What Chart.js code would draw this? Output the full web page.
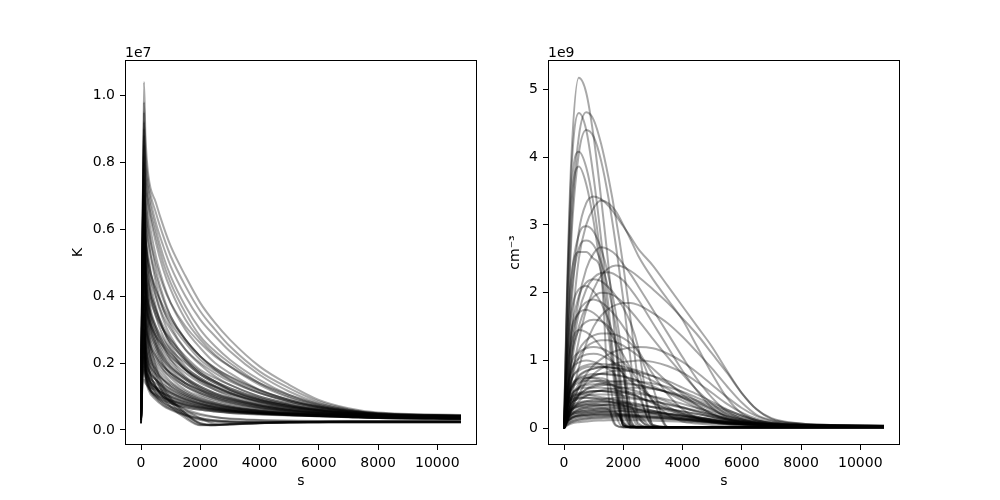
<!DOCTYPE html>
<html>
<head>
<meta charset="utf-8">
<script src="https://cdn.jsdelivr.net/npm/chart.js@4.4.1/dist/chart.umd.min.js"></script>
<style>
  html, body { margin: 0; padding: 0; background: #fff; }
  #wrap { position: relative; width: 1000px; height: 500px; }
  .panel { position: absolute; top: 0; width: 500px; height: 500px; }
</style>
</head>
<body>
<div id="wrap">
  <div class="panel" style="left:0"><canvas id="tempChart"></canvas></div>
  <div class="panel" style="left:500px"><canvas id="densChart"></canvas></div>
</div>
<script>
// tick labels
const xTicks = [0, 2000, 4000, 6000, 8000, 10000];
const tempTicks = [0, 0.2, 0.4, 0.6, 0.8, 1.0];
const densTicks = [0, 1, 2, 3, 4, 5];

// left panel: temperature (units of 1e7 K) against time (s)
const timeTemp = [0, 50, 100, 150, 250, 500, 750, 1000, 1500, 2000, 2500, 3000, 4000, 5000, 6000, 7000, 8000, 10800];
const tempCurves = [
  [0.03, 0.5, 1.04, 0.88, 0.76, 0.68, 0.61, 0.55, 0.46, 0.38, 0.32, 0.27, 0.19, 0.135, 0.09, 0.065, 0.052, 0.045],
  [0.03, 0.45, 0.98, 0.84, 0.74, 0.65, 0.58, 0.52, 0.43, 0.355, 0.3, 0.25, 0.175, 0.125, 0.085, 0.062, 0.05, 0.044],
  [0.035, 0.55, 0.92, 0.8, 0.72, 0.62, 0.55, 0.49, 0.4, 0.33, 0.28, 0.235, 0.165, 0.115, 0.08, 0.06, 0.05, 0.043],
  [0.03, 0.6, 0.85, 0.78, 0.7, 0.6, 0.52, 0.46, 0.37, 0.3, 0.25, 0.21, 0.15, 0.105, 0.075, 0.058, 0.048, 0.042],
  [0.03, 0.55, 0.8, 0.74, 0.67, 0.56, 0.48, 0.42, 0.33, 0.27, 0.225, 0.19, 0.135, 0.097, 0.072, 0.056, 0.047, 0.042],
  [0.03, 0.5, 0.78, 0.72, 0.64, 0.52, 0.44, 0.38, 0.3, 0.245, 0.2, 0.17, 0.12, 0.09, 0.068, 0.054, 0.046, 0.041],
  [0.03, 0.5, 0.76, 0.7, 0.61, 0.48, 0.4, 0.34, 0.27, 0.22, 0.18, 0.15, 0.11, 0.085, 0.065, 0.053, 0.046, 0.041],
  [0.03, 0.45, 0.72, 0.66, 0.57, 0.44, 0.36, 0.31, 0.24, 0.195, 0.16, 0.135, 0.1, 0.078, 0.062, 0.051, 0.045, 0.04],
  [0.03, 0.45, 0.68, 0.62, 0.52, 0.4, 0.33, 0.28, 0.215, 0.175, 0.145, 0.12, 0.09, 0.072, 0.058, 0.049, 0.044, 0.04],
  [0.03, 0.4, 0.65, 0.58, 0.48, 0.37, 0.3, 0.25, 0.19, 0.155, 0.13, 0.11, 0.083, 0.067, 0.055, 0.047, 0.043, 0.039],
  [0.03, 0.5, 0.95, 0.6, 0.45, 0.34, 0.28, 0.24, 0.18, 0.145, 0.12, 0.1, 0.078, 0.063, 0.053, 0.046, 0.042, 0.038],
  [0.03, 0.6, 0.9, 0.55, 0.4, 0.3, 0.25, 0.21, 0.16, 0.13, 0.11, 0.095, 0.075, 0.062, 0.052, 0.046, 0.042, 0.038],
  [0.03, 0.55, 0.7, 0.5, 0.38, 0.28, 0.23, 0.2, 0.155, 0.125, 0.105, 0.09, 0.072, 0.06, 0.051, 0.045, 0.041, 0.037],
  [0.03, 0.45, 0.62, 0.48, 0.36, 0.27, 0.22, 0.19, 0.15, 0.12, 0.1, 0.087, 0.07, 0.058, 0.05, 0.044, 0.04, 0.036],
  [0.03, 0.4, 0.58, 0.45, 0.35, 0.26, 0.21, 0.18, 0.14, 0.115, 0.097, 0.084, 0.068, 0.057, 0.049, 0.044, 0.04, 0.036],
  [0.03, 0.42, 0.55, 0.42, 0.33, 0.25, 0.2, 0.17, 0.135, 0.11, 0.093, 0.081, 0.066, 0.056, 0.048, 0.043, 0.04, 0.036],
  [0.03, 0.38, 0.5, 0.4, 0.31, 0.24, 0.195, 0.165, 0.13, 0.106, 0.09, 0.078, 0.064, 0.054, 0.047, 0.043, 0.039, 0.035],
  [0.03, 0.35, 0.46, 0.36, 0.28, 0.22, 0.18, 0.155, 0.12, 0.1, 0.085, 0.074, 0.061, 0.052, 0.046, 0.042, 0.039, 0.035],
  [0.03, 0.3, 0.42, 0.33, 0.26, 0.2, 0.17, 0.145, 0.115, 0.095, 0.081, 0.071, 0.059, 0.051, 0.045, 0.041, 0.038, 0.035],
  [0.03, 0.3, 0.38, 0.3, 0.24, 0.19, 0.16, 0.14, 0.11, 0.09, 0.078, 0.068, 0.057, 0.05, 0.044, 0.041, 0.038, 0.035],
  [0.03, 0.28, 0.35, 0.27, 0.22, 0.18, 0.15, 0.13, 0.105, 0.087, 0.075, 0.066, 0.056, 0.049, 0.044, 0.04, 0.037, 0.034],
  [0.03, 0.25, 0.3, 0.24, 0.2, 0.165, 0.14, 0.122, 0.1, 0.083, 0.072, 0.064, 0.054, 0.048, 0.043, 0.04, 0.037, 0.034],
  [0.03, 0.2, 0.26, 0.21, 0.18, 0.15, 0.13, 0.115, 0.095, 0.08, 0.07, 0.062, 0.053, 0.047, 0.043, 0.04, 0.037, 0.034],
  [0.03, 0.18, 0.22, 0.18, 0.16, 0.14, 0.125, 0.11, 0.09, 0.077, 0.068, 0.06, 0.052, 0.046, 0.042, 0.039, 0.036, 0.033],
  [0.03, 0.15, 0.18, 0.16, 0.14, 0.125, 0.115, 0.105, 0.088, 0.075, 0.066, 0.059, 0.051, 0.046, 0.042, 0.039, 0.036, 0.033],
  [0.03, 0.13, 0.15, 0.14, 0.13, 0.12, 0.11, 0.1, 0.085, 0.073, 0.064, 0.058, 0.05, 0.045, 0.041, 0.038, 0.036, 0.033],
  [0.03, 0.4, 0.6, 0.55, 0.48, 0.4, 0.34, 0.3, 0.24, 0.2, 0.17, 0.145, 0.11, 0.085, 0.068, 0.055, 0.047, 0.041],
  [0.03, 0.35, 0.5, 0.46, 0.41, 0.34, 0.3, 0.27, 0.22, 0.18, 0.155, 0.135, 0.1, 0.08, 0.064, 0.053, 0.046, 0.04],
  [0.03, 0.3, 0.45, 0.42, 0.37, 0.31, 0.27, 0.24, 0.2, 0.165, 0.14, 0.12, 0.092, 0.074, 0.06, 0.051, 0.045, 0.04],
  [0.03, 0.3, 0.4, 0.37, 0.33, 0.28, 0.25, 0.22, 0.18, 0.15, 0.13, 0.112, 0.087, 0.07, 0.058, 0.05, 0.044, 0.04],
  [0.03, 0.35, 0.5, 0.35, 0.25, 0.16, 0.11, 0.08, 0.04, 0.015, 0.015, 0.018, 0.022, 0.024, 0.025, 0.025, 0.025, 0.025],
  [0.03, 0.45, 0.6, 0.42, 0.3, 0.19, 0.13, 0.095, 0.05, 0.018, 0.014, 0.016, 0.02, 0.022, 0.023, 0.024, 0.024, 0.024],
  [0.03, 0.3, 0.4, 0.3, 0.22, 0.15, 0.11, 0.085, 0.045, 0.02, 0.016, 0.018, 0.021, 0.023, 0.024, 0.024, 0.024, 0.024],
  [0.03, 0.25, 0.35, 0.26, 0.19, 0.13, 0.095, 0.07, 0.035, 0.014, 0.015, 0.018, 0.021, 0.023, 0.024, 0.025, 0.025, 0.025],
  [0.03, 0.22, 0.3, 0.24, 0.18, 0.13, 0.1, 0.085, 0.06, 0.035, 0.018, 0.016, 0.02, 0.023, 0.024, 0.025, 0.025, 0.025],
  [0.03, 0.2, 0.25, 0.18, 0.14, 0.11, 0.095, 0.085, 0.072, 0.063, 0.057, 0.053, 0.048, 0.045, 0.042, 0.04, 0.038, 0.035],
  [0.03, 0.22, 0.28, 0.2, 0.15, 0.115, 0.1, 0.088, 0.074, 0.065, 0.059, 0.055, 0.05, 0.046, 0.043, 0.041, 0.039, 0.036],
  [0.03, 0.18, 0.24, 0.17, 0.13, 0.105, 0.09, 0.08, 0.068, 0.06, 0.055, 0.051, 0.046, 0.043, 0.041, 0.039, 0.037, 0.035],
  [0.02, 0.2, 0.3, 0.2, 0.14, 0.1, 0.08, 0.065, 0.045, 0.032, 0.026, 0.024, 0.023, 0.023, 0.023, 0.023, 0.023, 0.023],
  [0.02, 0.15, 0.22, 0.16, 0.12, 0.09, 0.072, 0.06, 0.042, 0.03, 0.025, 0.023, 0.022, 0.022, 0.022, 0.022, 0.022, 0.022],
  [0.03, 0.5, 0.74, 0.68, 0.6, 0.5, 0.43, 0.38, 0.31, 0.26, 0.22, 0.19, 0.14, 0.105, 0.078, 0.06, 0.05, 0.043],
  [0.03, 0.5, 0.88, 0.76, 0.68, 0.58, 0.5, 0.44, 0.35, 0.28, 0.235, 0.2, 0.14, 0.1, 0.074, 0.057, 0.048, 0.042],
  [0.03, 0.35, 0.55, 0.5, 0.44, 0.36, 0.31, 0.27, 0.21, 0.17, 0.145, 0.125, 0.095, 0.075, 0.06, 0.051, 0.045, 0.04],
  [0.03, 0.3, 0.45, 0.34, 0.27, 0.21, 0.18, 0.16, 0.13, 0.11, 0.095, 0.083, 0.066, 0.055, 0.048, 0.043, 0.04, 0.036],
  [0.03, 0.35, 0.55, 0.4, 0.3, 0.23, 0.19, 0.17, 0.14, 0.118, 0.1, 0.088, 0.07, 0.058, 0.05, 0.045, 0.041, 0.037],
  [0.03, 0.4, 0.65, 0.45, 0.33, 0.25, 0.21, 0.185, 0.15, 0.125, 0.107, 0.093, 0.073, 0.06, 0.051, 0.045, 0.041, 0.037],
  [0.03, 0.25, 0.33, 0.26, 0.21, 0.17, 0.15, 0.135, 0.11, 0.093, 0.08, 0.07, 0.058, 0.05, 0.045, 0.041, 0.038, 0.035],
  [0.03, 0.2, 0.28, 0.22, 0.18, 0.15, 0.135, 0.122, 0.1, 0.086, 0.075, 0.067, 0.056, 0.049, 0.044, 0.04, 0.037, 0.034],
  [0.03, 0.45, 0.75, 0.5, 0.37, 0.29, 0.25, 0.22, 0.18, 0.15, 0.128, 0.11, 0.085, 0.068, 0.056, 0.048, 0.043, 0.038],
  [0.03, 0.5, 0.82, 0.6, 0.46, 0.36, 0.3, 0.26, 0.21, 0.17, 0.145, 0.125, 0.095, 0.075, 0.061, 0.051, 0.045, 0.04],
  [0.03, 0.55, 0.7, 0.58, 0.5, 0.42, 0.37, 0.33, 0.27, 0.22, 0.185, 0.158, 0.118, 0.09, 0.07, 0.056, 0.047, 0.041],
  [0.03, 0.3, 0.4, 0.32, 0.27, 0.22, 0.19, 0.17, 0.14, 0.12, 0.104, 0.092, 0.073, 0.06, 0.051, 0.045, 0.041, 0.037],
  [0.03, 0.18, 0.2, 0.17, 0.15, 0.13, 0.12, 0.11, 0.092, 0.078, 0.068, 0.061, 0.052, 0.046, 0.042, 0.039, 0.036, 0.033],
  [0.03, 0.22, 0.25, 0.19, 0.155, 0.125, 0.11, 0.1, 0.082, 0.07, 0.062, 0.056, 0.049, 0.044, 0.041, 0.038, 0.036, 0.033],
  [0.03, 0.25, 0.32, 0.22, 0.16, 0.12, 0.1, 0.09, 0.076, 0.067, 0.061, 0.056, 0.05, 0.046, 0.043, 0.041, 0.039, 0.036],
  [0.03, 0.28, 0.36, 0.24, 0.17, 0.125, 0.105, 0.093, 0.078, 0.068, 0.062, 0.057, 0.051, 0.047, 0.044, 0.042, 0.04, 0.037],
  [0.02, 0.25, 0.35, 0.23, 0.16, 0.11, 0.085, 0.07, 0.05, 0.036, 0.029, 0.026, 0.024, 0.024, 0.024, 0.024, 0.024, 0.024],
  [0.02, 0.18, 0.26, 0.18, 0.13, 0.095, 0.075, 0.062, 0.045, 0.034, 0.028, 0.025, 0.023, 0.023, 0.023, 0.023, 0.023, 0.023],
  [0.03, 0.4, 0.55, 0.38, 0.27, 0.17, 0.12, 0.09, 0.05, 0.02, 0.014, 0.016, 0.02, 0.022, 0.023, 0.024, 0.024, 0.024],
  [0.03, 0.35, 0.48, 0.4, 0.34, 0.28, 0.24, 0.21, 0.17, 0.14, 0.12, 0.105, 0.082, 0.066, 0.055, 0.047, 0.043, 0.039],
  [0.03, 0.4, 0.58, 0.5, 0.43, 0.35, 0.3, 0.26, 0.205, 0.165, 0.14, 0.12, 0.09, 0.072, 0.059, 0.05, 0.045, 0.04],
  [0.03, 0.45, 0.7, 0.64, 0.56, 0.46, 0.39, 0.34, 0.27, 0.22, 0.185, 0.16, 0.12, 0.09, 0.07, 0.056, 0.048, 0.042],
  [0.03, 0.4, 0.62, 0.57, 0.5, 0.42, 0.36, 0.32, 0.26, 0.21, 0.178, 0.152, 0.113, 0.086, 0.067, 0.054, 0.046, 0.041],
  [0.04, 0.2, 0.24, 0.17, 0.13, 0.1, 0.088, 0.08, 0.068, 0.06, 0.055, 0.051, 0.047, 0.044, 0.042, 0.04, 0.038, 0.036],
  [0.04, 0.26, 0.3, 0.21, 0.16, 0.125, 0.108, 0.097, 0.082, 0.071, 0.064, 0.058, 0.051, 0.047, 0.044, 0.042, 0.04, 0.037],
  [0.05, 0.3, 0.38, 0.27, 0.2, 0.15, 0.128, 0.113, 0.093, 0.079, 0.069, 0.062, 0.054, 0.049, 0.045, 0.042, 0.04, 0.037],
  [0.03, 0.35, 0.44, 0.32, 0.24, 0.18, 0.15, 0.13, 0.105, 0.088, 0.076, 0.067, 0.057, 0.05, 0.046, 0.043, 0.04, 0.037],
  [0.02, 0.22, 0.3, 0.2, 0.14, 0.1, 0.082, 0.07, 0.055, 0.045, 0.038, 0.033, 0.029, 0.027, 0.026, 0.026, 0.026, 0.026],
  [0.02, 0.28, 0.4, 0.27, 0.19, 0.13, 0.1, 0.083, 0.062, 0.048, 0.039, 0.034, 0.03, 0.028, 0.027, 0.027, 0.027, 0.027],
  [0.03, 0.45, 0.6, 0.44, 0.34, 0.26, 0.22, 0.19, 0.155, 0.13, 0.11, 0.096, 0.076, 0.063, 0.054, 0.047, 0.043, 0.039],
  [0.03, 0.5, 0.66, 0.5, 0.4, 0.31, 0.26, 0.23, 0.18, 0.148, 0.125, 0.108, 0.084, 0.068, 0.057, 0.049, 0.044, 0.04],
  [0.06, 0.16, 0.19, 0.15, 0.125, 0.105, 0.095, 0.088, 0.075, 0.066, 0.06, 0.055, 0.049, 0.045, 0.043, 0.041, 0.039, 0.037],
  [0.03, 0.38, 0.52, 0.44, 0.37, 0.3, 0.26, 0.23, 0.185, 0.155, 0.132, 0.115, 0.089, 0.071, 0.059, 0.05, 0.045, 0.04]
];

// right panel: density (units of 1e9 cm^-3) against time (s)
const timeDens = [0, 100, 250, 500, 750, 1000, 1250, 1500, 1750, 2000, 2250, 2500, 3000, 3500, 4000, 4500, 5000, 5500, 6000, 6500, 7000, 8000, 9000, 10800];
const densCurves = [
  [0, 2.0, 4.0, 5.17, 4.95, 4.3, 3.4, 2.4, 1.2, 0.08, 0.02, 0.02, 0.02, 0.02, 0.02, 0.02, 0.02, 0.02, 0.02, 0.02, 0.02, 0.02, 0.02, 0.02],
  [0, 1.9, 3.8, 4.65, 4.4, 3.7, 2.8, 1.8, 0.7, 0.05, 0.02, 0.02, 0.02, 0.02, 0.02, 0.02, 0.02, 0.02, 0.02, 0.02, 0.02, 0.02, 0.02, 0.02],
  [0, 1.2, 3.0, 4.3, 4.66, 4.55, 4.2, 3.7, 3.1, 2.4, 1.6, 0.7, 0.04, 0.02, 0.02, 0.02, 0.02, 0.02, 0.02, 0.02, 0.02, 0.02, 0.02, 0.02],
  [0, 1.1, 2.8, 4.05, 4.4, 4.3, 3.95, 3.4, 2.7, 1.9, 1.0, 0.2, 0.03, 0.02, 0.02, 0.02, 0.02, 0.02, 0.02, 0.02, 0.02, 0.02, 0.02, 0.02],
  [0, 1.8, 3.5, 4.08, 3.85, 3.3, 2.5, 1.6, 0.6, 0.04, 0.02, 0.02, 0.02, 0.02, 0.02, 0.02, 0.02, 0.02, 0.02, 0.02, 0.02, 0.02, 0.02, 0.02],
  [0, 1.7, 3.3, 3.86, 3.6, 3.05, 2.3, 1.4, 0.5, 0.04, 0.02, 0.02, 0.02, 0.02, 0.02, 0.02, 0.02, 0.02, 0.02, 0.02, 0.02, 0.02, 0.02, 0.02],
  [0, 0.6, 1.8, 2.9, 3.32, 3.42, 3.38, 3.28, 3.14, 2.98, 2.82, 2.65, 2.4, 2.1, 1.8, 1.5, 1.2, 0.85, 0.52, 0.28, 0.15, 0.07, 0.05, 0.04],
  [0, 0.5, 1.4, 2.5, 3.0, 3.25, 3.36, 3.32, 3.2, 3.0, 2.78, 2.55, 2.2, 1.9, 1.6, 1.2, 0.8, 0.45, 0.22, 0.12, 0.08, 0.05, 0.04, 0.035],
  [0, 1.0, 2.2, 2.85, 2.98, 2.9, 2.65, 2.25, 1.7, 1.0, 0.3, 0.03, 0.02, 0.02, 0.02, 0.02, 0.02, 0.02, 0.02, 0.02, 0.02, 0.02, 0.02, 0.02],
  [0, 0.9, 2.0, 2.65, 2.77, 2.7, 2.45, 2.05, 1.5, 0.8, 0.15, 0.02, 0.02, 0.02, 0.02, 0.02, 0.02, 0.02, 0.02, 0.02, 0.02, 0.02, 0.02, 0.02],
  [0, 0.4, 1.1, 1.9, 2.35, 2.58, 2.67, 2.64, 2.56, 2.42, 2.27, 2.1, 1.75, 1.4, 1.05, 0.72, 0.45, 0.25, 0.14, 0.09, 0.06, 0.045, 0.04, 0.035],
  [0, 1.3, 2.25, 2.6, 2.6, 2.5, 2.3, 0.5, 0.04, 0.02, 0.02, 0.02, 0.02, 0.02, 0.02, 0.02, 0.02, 0.02, 0.02, 0.02, 0.02, 0.02, 0.02, 0.02],
  [0, 0.25, 0.7, 1.3, 1.75, 2.05, 2.25, 2.36, 2.4, 2.38, 2.32, 2.24, 2.05, 1.85, 1.62, 1.38, 1.1, 0.82, 0.52, 0.28, 0.14, 0.07, 0.05, 0.04],
  [0, 0.35, 1.0, 1.7, 2.05, 2.22, 2.29, 2.3, 2.26, 2.18, 2.05, 1.9, 1.55, 1.2, 0.85, 0.55, 0.3, 0.16, 0.1, 0.07, 0.055, 0.045, 0.04, 0.035],
  [0, 0.6, 1.4, 1.95, 2.15, 2.2, 2.17, 2.08, 1.95, 1.78, 1.55, 1.2, 0.05, 0.02, 0.02, 0.02, 0.02, 0.02, 0.02, 0.02, 0.02, 0.02, 0.02, 0.02],
  [0, 1.0, 1.7, 2.05, 2.1, 2.02, 1.85, 1.6, 1.2, 0.3, 0.03, 0.02, 0.02, 0.02, 0.02, 0.02, 0.02, 0.02, 0.02, 0.02, 0.02, 0.02, 0.02, 0.02],
  [0, 0.35, 0.95, 1.5, 1.8, 1.94, 2.0, 1.99, 1.94, 1.85, 1.73, 1.6, 1.32, 1.05, 0.8, 0.56, 0.36, 0.21, 0.13, 0.08, 0.06, 0.045, 0.04, 0.035],
  [0, 0.6, 1.3, 1.72, 1.86, 1.9, 1.86, 1.77, 1.65, 1.5, 1.33, 1.15, 0.8, 0.5, 0.28, 0.15, 0.09, 0.06, 0.05, 0.045, 0.04, 0.035, 0.03, 0.03],
  [0, 0.15, 0.45, 0.9, 1.25, 1.5, 1.66, 1.76, 1.82, 1.85, 1.85, 1.82, 1.7, 1.55, 1.35, 1.12, 0.88, 0.62, 0.38, 0.2, 0.12, 0.06, 0.045, 0.035],
  [0, 0.8, 1.25, 1.45, 1.42, 1.33, 1.2, 1.07, 0.93, 0.8, 0.7, 0.61, 0.45, 0.32, 0.22, 0.15, 0.1, 0.075, 0.06, 0.05, 0.045, 0.04, 0.035, 0.03],
  [0, 0.5, 1.1, 1.45, 1.57, 1.6, 1.58, 1.5, 1.3, 0.4, 0.03, 0.02, 0.02, 0.02, 0.02, 0.02, 0.02, 0.02, 0.02, 0.02, 0.02, 0.02, 0.02, 0.02],
  [0, 0.25, 0.7, 1.05, 1.2, 1.27, 1.3, 1.3, 1.27, 1.22, 1.15, 1.07, 0.88, 0.68, 0.5, 0.34, 0.21, 0.13, 0.09, 0.065, 0.05, 0.04, 0.035, 0.03],
  [0, 0.1, 0.3, 0.6, 0.8, 0.93, 1.02, 1.09, 1.14, 1.17, 1.19, 1.2, 1.18, 1.1, 0.98, 0.82, 0.64, 0.46, 0.3, 0.18, 0.11, 0.06, 0.045, 0.035],
  [0, 0.35, 0.7, 0.88, 0.93, 0.95, 0.95, 0.94, 0.93, 0.91, 0.88, 0.85, 0.77, 0.66, 0.53, 0.4, 0.28, 0.18, 0.11, 0.075, 0.055, 0.04, 0.035, 0.03],
  [0, 0.4, 0.72, 0.85, 0.9, 0.91, 0.91, 0.9, 0.89, 0.88, 0.86, 0.83, 0.05, 0.02, 0.02, 0.02, 0.02, 0.02, 0.02, 0.02, 0.02, 0.02, 0.02, 0.02],
  [0, 0.5, 0.85, 0.97, 1.0, 0.98, 0.94, 0.87, 0.75, 0.05, 0.015, 0.015, 0.015, 0.015, 0.015, 0.015, 0.015, 0.015, 0.015, 0.015, 0.015, 0.015, 0.015, 0.015],
  [0, 0.2, 0.45, 0.65, 0.74, 0.78, 0.8, 0.8, 0.79, 0.77, 0.74, 0.7, 0.62, 0.52, 0.41, 0.3, 0.2, 0.13, 0.09, 0.065, 0.05, 0.04, 0.035, 0.03],
  [0, 0.4, 0.63, 0.73, 0.75, 0.74, 0.71, 0.67, 0.62, 0.57, 0.52, 0.47, 0.37, 0.28, 0.2, 0.14, 0.1, 0.075, 0.06, 0.05, 0.045, 0.04, 0.035, 0.03],
  [0, 0.35, 0.58, 0.67, 0.7, 0.7, 0.68, 0.65, 0.58, 0.04, 0.015, 0.015, 0.015, 0.015, 0.015, 0.015, 0.015, 0.015, 0.015, 0.015, 0.015, 0.015, 0.015, 0.015],
  [0, 0.15, 0.35, 0.5, 0.57, 0.61, 0.63, 0.645, 0.65, 0.65, 0.645, 0.63, 0.59, 0.53, 0.45, 0.36, 0.27, 0.19, 0.13, 0.09, 0.065, 0.045, 0.035, 0.03],
  [0, 0.3, 0.5, 0.58, 0.6, 0.6, 0.6, 0.59, 0.57, 0.54, 0.5, 0.46, 0.38, 0.3, 0.23, 0.17, 0.12, 0.09, 0.07, 0.055, 0.045, 0.04, 0.035, 0.03],
  [0, 0.3, 0.46, 0.52, 0.54, 0.55, 0.55, 0.54, 0.53, 0.52, 0.5, 0.47, 0.03, 0.015, 0.015, 0.015, 0.015, 0.015, 0.015, 0.015, 0.015, 0.015, 0.015, 0.015],
  [0, 0.2, 0.36, 0.45, 0.48, 0.5, 0.5, 0.5, 0.49, 0.48, 0.46, 0.44, 0.4, 0.35, 0.3, 0.25, 0.2, 0.15, 0.11, 0.08, 0.06, 0.045, 0.035, 0.03],
  [0, 0.25, 0.38, 0.43, 0.45, 0.45, 0.44, 0.43, 0.42, 0.4, 0.38, 0.36, 0.31, 0.26, 0.21, 0.17, 0.13, 0.1, 0.08, 0.065, 0.05, 0.04, 0.035, 0.03],
  [0, 0.22, 0.33, 0.38, 0.4, 0.4, 0.4, 0.39, 0.37, 0.35, 0.03, 0.012, 0.012, 0.012, 0.012, 0.012, 0.012, 0.012, 0.012, 0.012, 0.012, 0.012, 0.012, 0.012],
  [0, 0.15, 0.27, 0.33, 0.36, 0.37, 0.38, 0.38, 0.38, 0.37, 0.36, 0.35, 0.32, 0.29, 0.25, 0.21, 0.17, 0.13, 0.1, 0.08, 0.06, 0.045, 0.035, 0.03],
  [0, 0.18, 0.27, 0.31, 0.32, 0.33, 0.33, 0.32, 0.31, 0.3, 0.29, 0.27, 0.24, 0.21, 0.18, 0.15, 0.12, 0.095, 0.075, 0.06, 0.05, 0.04, 0.035, 0.03],
  [0, 0.14, 0.22, 0.26, 0.28, 0.29, 0.3, 0.3, 0.3, 0.29, 0.28, 0.27, 0.25, 0.22, 0.19, 0.16, 0.13, 0.105, 0.085, 0.065, 0.055, 0.04, 0.035, 0.03],
  [0, 0.15, 0.22, 0.25, 0.26, 0.27, 0.27, 0.27, 0.26, 0.25, 0.24, 0.23, 0.21, 0.18, 0.15, 0.12, 0.1, 0.08, 0.065, 0.055, 0.045, 0.04, 0.035, 0.03],
  [0, 0.12, 0.19, 0.22, 0.23, 0.24, 0.24, 0.24, 0.23, 0.08, 0.012, 0.01, 0.01, 0.01, 0.01, 0.01, 0.01, 0.01, 0.01, 0.01, 0.01, 0.01, 0.01, 0.01],
  [0, 0.1, 0.16, 0.19, 0.2, 0.21, 0.22, 0.22, 0.22, 0.21, 0.21, 0.2, 0.19, 0.17, 0.15, 0.13, 0.11, 0.09, 0.075, 0.06, 0.05, 0.04, 0.035, 0.03],
  [0, 0.1, 0.15, 0.18, 0.19, 0.195, 0.2, 0.2, 0.2, 0.2, 0.19, 0.185, 0.17, 0.15, 0.13, 0.11, 0.095, 0.08, 0.065, 0.055, 0.045, 0.038, 0.033, 0.03],
  [0, 0.06, 0.1, 0.13, 0.145, 0.155, 0.16, 0.165, 0.17, 0.17, 0.17, 0.165, 0.155, 0.14, 0.125, 0.11, 0.095, 0.08, 0.065, 0.055, 0.045, 0.038, 0.033, 0.028],
  [0, 0.15, 0.38, 0.6, 0.71, 0.77, 0.81, 0.83, 0.85, 0.85, 0.84, 0.82, 0.77, 0.7, 0.6, 0.5, 0.39, 0.28, 0.19, 0.12, 0.08, 0.05, 0.04, 0.03],
  [0, 0.45, 0.85, 1.03, 1.09, 1.1, 1.08, 1.02, 0.95, 0.86, 0.06, 0.015, 0.015, 0.015, 0.015, 0.015, 0.015, 0.015, 0.015, 0.015, 0.015, 0.015, 0.015, 0.015],
  [0, 0.9, 1.45, 1.7, 1.75, 1.7, 1.6, 1.45, 1.27, 1.08, 0.88, 0.7, 0.4, 0.2, 0.1, 0.07, 0.05, 0.045, 0.04, 0.035, 0.035, 0.03, 0.03, 0.03],
  [0, 0.2, 0.45, 0.6, 0.66, 0.69, 0.7, 0.7, 0.69, 0.68, 0.66, 0.64, 0.59, 0.53, 0.46, 0.38, 0.3, 0.22, 0.15, 0.1, 0.07, 0.05, 0.04, 0.03],
  [0, 0.1, 0.28, 0.5, 0.68, 0.8, 0.88, 0.93, 0.96, 0.98, 0.99, 1.0, 0.98, 0.92, 0.82, 0.68, 0.52, 0.36, 0.23, 0.14, 0.09, 0.055, 0.04, 0.035],
  [0, 0.18, 0.28, 0.32, 0.34, 0.35, 0.35, 0.35, 0.34, 0.33, 0.32, 0.15, 0.012, 0.012, 0.012, 0.012, 0.012, 0.012, 0.012, 0.012, 0.012, 0.012, 0.012, 0.012],
  [0, 0.25, 0.55, 0.76, 0.84, 0.88, 0.9, 0.9, 0.89, 0.87, 0.84, 0.8, 0.7, 0.58, 0.45, 0.33, 0.22, 0.14, 0.09, 0.065, 0.05, 0.04, 0.035, 0.03],
  [0, 0.1, 0.25, 0.4, 0.48, 0.53, 0.56, 0.58, 0.59, 0.6, 0.6, 0.6, 0.58, 0.54, 0.48, 0.41, 0.33, 0.25, 0.17, 0.11, 0.075, 0.05, 0.04, 0.03],
  [0, 0.12, 0.26, 0.36, 0.4, 0.42, 0.43, 0.44, 0.45, 0.45, 0.44, 0.43, 0.4, 0.36, 0.31, 0.26, 0.2, 0.15, 0.11, 0.08, 0.06, 0.045, 0.035, 0.03],
  [0, 0.1, 0.2, 0.28, 0.31, 0.33, 0.34, 0.35, 0.35, 0.35, 0.34, 0.33, 0.31, 0.28, 0.25, 0.21, 0.17, 0.13, 0.1, 0.075, 0.06, 0.045, 0.035, 0.03],
  [0, 0.16, 0.24, 0.28, 0.3, 0.3, 0.3, 0.28, 0.05, 0.012, 0.012, 0.012, 0.012, 0.012, 0.012, 0.012, 0.012, 0.012, 0.012, 0.012, 0.012, 0.012, 0.012, 0.012],
  [0, 0.25, 0.42, 0.5, 0.53, 0.55, 0.55, 0.54, 0.52, 0.48, 0.1, 0.012, 0.012, 0.012, 0.012, 0.012, 0.012, 0.012, 0.012, 0.012, 0.012, 0.012, 0.012, 0.012],
  [0, 0.3, 0.6, 0.74, 0.78, 0.8, 0.8, 0.79, 0.78, 0.76, 0.73, 0.7, 0.4, 0.02, 0.02, 0.02, 0.02, 0.02, 0.02, 0.02, 0.02, 0.02, 0.02, 0.02],
  [0, 0.5, 0.95, 1.12, 1.18, 1.2, 1.18, 1.13, 1.06, 0.97, 0.8, 0.08, 0.015, 0.015, 0.015, 0.015, 0.015, 0.015, 0.015, 0.015, 0.015, 0.015, 0.015, 0.015],
  [0, 0.08, 0.15, 0.2, 0.22, 0.23, 0.24, 0.245, 0.25, 0.25, 0.245, 0.24, 0.23, 0.21, 0.19, 0.16, 0.14, 0.11, 0.09, 0.07, 0.055, 0.04, 0.035, 0.03],
  [0, 0.12, 0.2, 0.24, 0.26, 0.27, 0.28, 0.28, 0.28, 0.27, 0.26, 0.25, 0.23, 0.2, 0.17, 0.14, 0.12, 0.095, 0.075, 0.06, 0.05, 0.04, 0.033, 0.028],
  [0, 0.08, 0.12, 0.15, 0.16, 0.17, 0.175, 0.18, 0.18, 0.18, 0.175, 0.17, 0.16, 0.15, 0.13, 0.12, 0.1, 0.085, 0.07, 0.058, 0.048, 0.038, 0.032, 0.028],
  [0, 0.3, 0.45, 0.5, 0.5, 0.48, 0.46, 0.44, 0.41, 0.38, 0.35, 0.32, 0.26, 0.2, 0.15, 0.11, 0.085, 0.065, 0.055, 0.045, 0.04, 0.035, 0.03, 0.03],
  [0, 0.18, 0.3, 0.36, 0.38, 0.39, 0.4, 0.4, 0.39, 0.38, 0.37, 0.05, 0.012, 0.012, 0.012, 0.012, 0.012, 0.012, 0.012, 0.012, 0.012, 0.012, 0.012, 0.012],
  [0, 0.3, 0.5, 0.6, 0.64, 0.65, 0.65, 0.64, 0.62, 0.6, 0.57, 0.54, 0.47, 0.39, 0.31, 0.24, 0.17, 0.12, 0.085, 0.065, 0.05, 0.04, 0.035, 0.03],
  [0, 0.35, 0.6, 0.7, 0.74, 0.75, 0.74, 0.7, 0.2, 0.015, 0.015, 0.015, 0.015, 0.015, 0.015, 0.015, 0.015, 0.015, 0.015, 0.015, 0.015, 0.015, 0.015, 0.015],
  [0, 0.1, 0.16, 0.19, 0.2, 0.21, 0.21, 0.21, 0.21, 0.2, 0.2, 0.19, 0.01, 0.01, 0.01, 0.01, 0.01, 0.01, 0.01, 0.01, 0.01, 0.01, 0.01, 0.01],
  [0, 0.3, 0.8, 1.15, 1.3, 1.37, 1.4, 1.4, 1.38, 1.33, 1.25, 1.13, 0.6, 0.02, 0.02, 0.02, 0.02, 0.02, 0.02, 0.02, 0.02, 0.02, 0.02, 0.02],
  [0, 0.05, 0.09, 0.115, 0.13, 0.14, 0.145, 0.15, 0.15, 0.15, 0.15, 0.145, 0.14, 0.13, 0.12, 0.105, 0.09, 0.077, 0.065, 0.055, 0.045, 0.037, 0.032, 0.028],
  [0, 0.04, 0.07, 0.09, 0.1, 0.11, 0.115, 0.12, 0.12, 0.12, 0.12, 0.118, 0.113, 0.106, 0.098, 0.09, 0.08, 0.07, 0.06, 0.052, 0.045, 0.037, 0.032, 0.028],
  [0, 0.2, 0.3, 0.34, 0.35, 0.35, 0.345, 0.34, 0.33, 0.32, 0.31, 0.29, 0.26, 0.22, 0.18, 0.15, 0.12, 0.09, 0.07, 0.055, 0.045, 0.038, 0.033, 0.028],
  [0, 0.18, 0.38, 0.48, 0.52, 0.54, 0.55, 0.55, 0.55, 0.54, 0.53, 0.51, 0.47, 0.42, 0.36, 0.3, 0.24, 0.18, 0.13, 0.09, 0.065, 0.045, 0.035, 0.03],
  [0, 0.3, 0.6, 0.78, 0.85, 0.88, 0.9, 0.9, 0.88, 0.8, 0.05, 0.015, 0.015, 0.015, 0.015, 0.015, 0.015, 0.015, 0.015, 0.015, 0.015, 0.015, 0.015, 0.015],
  [0, 0.3, 0.42, 0.45, 0.45, 0.44, 0.42, 0.4, 0.37, 0.34, 0.31, 0.28, 0.22, 0.17, 0.13, 0.1, 0.08, 0.065, 0.055, 0.045, 0.04, 0.035, 0.03, 0.028],
  [0, 0.12, 0.2, 0.23, 0.24, 0.25, 0.25, 0.25, 0.24, 0.1, 0.01, 0.01, 0.01, 0.01, 0.01, 0.01, 0.01, 0.01, 0.01, 0.01, 0.01, 0.01, 0.01, 0.01],
  [0, 0.12, 0.3, 0.48, 0.58, 0.63, 0.66, 0.68, 0.69, 0.7, 0.7, 0.69, 0.66, 0.61, 0.54, 0.45, 0.36, 0.27, 0.19, 0.12, 0.08, 0.05, 0.04, 0.03],
  [0, 0.09, 0.14, 0.17, 0.18, 0.19, 0.19, 0.19, 0.19, 0.19, 0.185, 0.18, 0.17, 0.16, 0.145, 0.13, 0.11, 0.095, 0.08, 0.065, 0.052, 0.04, 0.034, 0.03]
];

Chart.defaults.font.family = "'DejaVu Sans', sans-serif";
Chart.defaults.font.size = 14;
Chart.defaults.color = "#000";

// frame around the axes + the "1e7" style offset label
const framePlugin = {
  id: "frame",
  afterDraw(chart, args, opts) {
    const { ctx, chartArea: a } = chart;
    ctx.save();
    ctx.strokeStyle = "#000";
    ctx.lineWidth = 1;
    ctx.strokeRect(a.left + 0.5, a.top + 0.5, a.right - a.left - 1, a.bottom - a.top - 1);
    ctx.font = "14px 'DejaVu Sans'";
    ctx.fillStyle = "#000";
    ctx.textAlign = "left";
    ctx.textBaseline = "alphabetic";
    ctx.fillText(opts.text, a.left, a.top - 3);
    ctx.restore();
  },
};

function makePanel(id, times, curves, cfg) {
  const datasets = curves.map((vals) => ({
    data: vals.map((v, i) => ({ x: times[i], y: v })),
    borderColor: "rgba(0, 0, 0, 0.34)",
    borderWidth: 2,
    pointRadius: 0,
    cubicInterpolationMode: "monotone",
    fill: false,
  }));
  return new Chart(document.getElementById(id), {
    type: "line",
    data: { datasets: datasets },
    plugins: [framePlugin],
    options: {
      responsive: true,
      maintainAspectRatio: false,
      animation: false,
      layout: { padding: { left: 0, right: cfg.padRight, top: 60, bottom: 0 } },
      plugins: {
        legend: { display: false },
        tooltip: { enabled: false },
        frame: { text: cfg.offset },
      },
      scales: {
        x: {
          type: "linear",
          min: -540,
          max: 11340,
          afterFit: (s) => { s.height = 55; },
          afterBuildTicks: (s) => { s.ticks = xTicks.map((v) => ({ value: v })); },
          ticks: { padding: 5, maxRotation: 0, callback: (v) => String(v) },
          grid: { drawOnChartArea: false, color: "#000", tickLength: 5, tickWidth: 1 },
          border: { display: false },
          title: { display: true, text: "s", padding: { top: 0, bottom: 10 } },
        },
        y: {
          type: "linear",
          min: cfg.yMin,
          max: cfg.yMax,
          afterFit: (s) => { s.width = cfg.yWidth; },
          afterBuildTicks: (s) => { s.ticks = cfg.yTicks.map((v) => ({ value: v })); },
          ticks: { padding: 5, callback: cfg.fmt },
          grid: { drawOnChartArea: false, color: "#000", tickLength: 5, tickWidth: 1 },
          border: { display: false },
          title: { display: true, text: cfg.title, padding: { top: cfg.titlePad, bottom: 0 } },
        },
      },
    },
  });
}

makePanel("tempChart", timeTemp, tempCurves, {
  yMin: -0.045, yMax: 1.106, yTicks: tempTicks, fmt: (v) => v.toFixed(1),
  title: "K", titlePad: 70, yWidth: 125, padRight: 23, offset: "1e7",
});
makePanel("densChart", timeDens, densCurves, {
  yMin: -0.246, yMax: 5.432, yTicks: densTicks, fmt: (v) => String(v),
  title: "cm⁻³", titlePad: 7, yWidth: 48, padRight: 100, offset: "1e9",
});
</script>
</body>
</html>
